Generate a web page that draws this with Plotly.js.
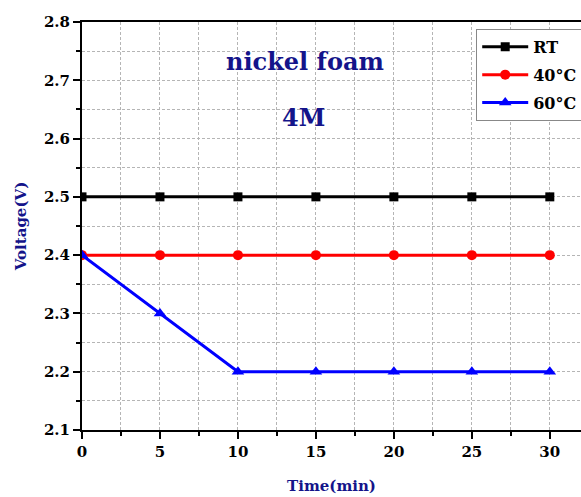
<!DOCTYPE html>
<html><head><meta charset="utf-8">
<script src="https://cdn.plot.ly/plotly-3.0.1.min.js"></script>
<style>body{margin:0;padding:0;background:#fff}</style>
</head><body>
<div id="chart" style="width:581px;height:497px"></div>
<script>
const time = [0, 5, 10, 15, 20, 25, 30];
const seriesNames = ["RT", "40°C", "60°C"];
const rtVoltage = [2.5, 2.5, 2.5, 2.5, 2.5, 2.5, 2.5];
const v40 = [2.4, 2.4, 2.4, 2.4, 2.4, 2.4, 2.4];
const v60 = [2.4, 2.3, 2.2, 2.2, 2.2, 2.2, 2.2];
const titleLines = ["nickel foam", "4M"];

const FONT = "DejaVu Serif, serif";
const NAVY = "#14148a";

function tr(name, y, color, symbol, size) {
  return {x: time, y: y, name: name, legendgroup: name, type: "scatter", mode: "lines+markers",
    line: {color: color, width: 3}, marker: {color: color, symbol: symbol, size: size}};
}
const data = [
  tr(seriesNames[0], rtVoltage, "#000000", "square", 9),
  tr(seriesNames[1], v40, "#ff0000", "circle", 10),
  tr(seriesNames[2], v60, "#0000ff", "triangle-up", 11)
];
const gridStyle = {gridcolor: "#b5b5b5", griddash: "3px,2px", gridwidth: 1};
const layout = {
  width: 581, height: 497,
  margin: {l: 82, r: 0, t: 22, b: 67, autoexpand: false},
  paper_bgcolor: "#fff", plot_bgcolor: "#fff",
  showlegend: true,
  xaxis: Object.assign({
    range: [0, 32], tickvals: time, ticks: "outside", ticklen: 7, tickwidth: 2, tickcolor: "#000",
    showline: true, linecolor: "#000", linewidth: 2, mirror: true, zeroline: false,
    tickfont: {family: FONT, size: 15, color: "#000", weight: "bold"},
    title: {text: "Time(min)", font: {family: FONT, size: 15, color: NAVY, weight: "bold"}, standoff: 20},
    minor: Object.assign({dtick: 2.5, tick0: 0, ticks: "outside", ticklen: 4, tickwidth: 2, tickcolor: "#000", showgrid: true}, gridStyle),
    showgrid: true
  }, gridStyle),
  yaxis: Object.assign({
    range: [2.1, 2.8], dtick: 0.1, tick0: 2.1, ticks: "outside", ticklen: 7, tickwidth: 2, tickcolor: "#000",
    tickformat: ".1f",
    showline: true, linecolor: "#000", linewidth: 2, zeroline: false,
    tickfont: {family: FONT, size: 15, color: "#000", weight: "bold"},
    title: {text: "Voltage(V)", font: {family: FONT, size: 15, color: NAVY, weight: "bold"}, standoff: 14},
    minor: Object.assign({dtick: 0.05, tick0: 2.1, ticks: "outside", ticklen: 4, tickwidth: 2, tickcolor: "#000", showgrid: true}, gridStyle),
    showgrid: true
  }, gridStyle),
  legend: {x: 0.79, y: 0.983, xanchor: "left", yanchor: "top", traceorder: "grouped",
    bgcolor: "#fff", bordercolor: "#888", borderwidth: 1,
    font: {family: FONT, size: 16, color: "#000", weight: "bold"}, tracegroupgap: 4, itemwidth: 46},
  annotations: [
    {text: titleLines[0], x: 0.447, y: 0.902, xref: "paper", yref: "paper", showarrow: false,
     xanchor: "center", yanchor: "middle",
     font: {family: FONT, size: 24, color: NAVY, weight: "bold"}},
    {text: titleLines[1], x: 0.443, y: 0.765, xref: "paper", yref: "paper", showarrow: false,
     xanchor: "center", yanchor: "middle",
     font: {family: FONT, size: 24, color: NAVY, weight: "bold"}}
  ]
};
Plotly.newPlot("chart", data, layout, {displayModeBar: false});
</script>
</body></html>
